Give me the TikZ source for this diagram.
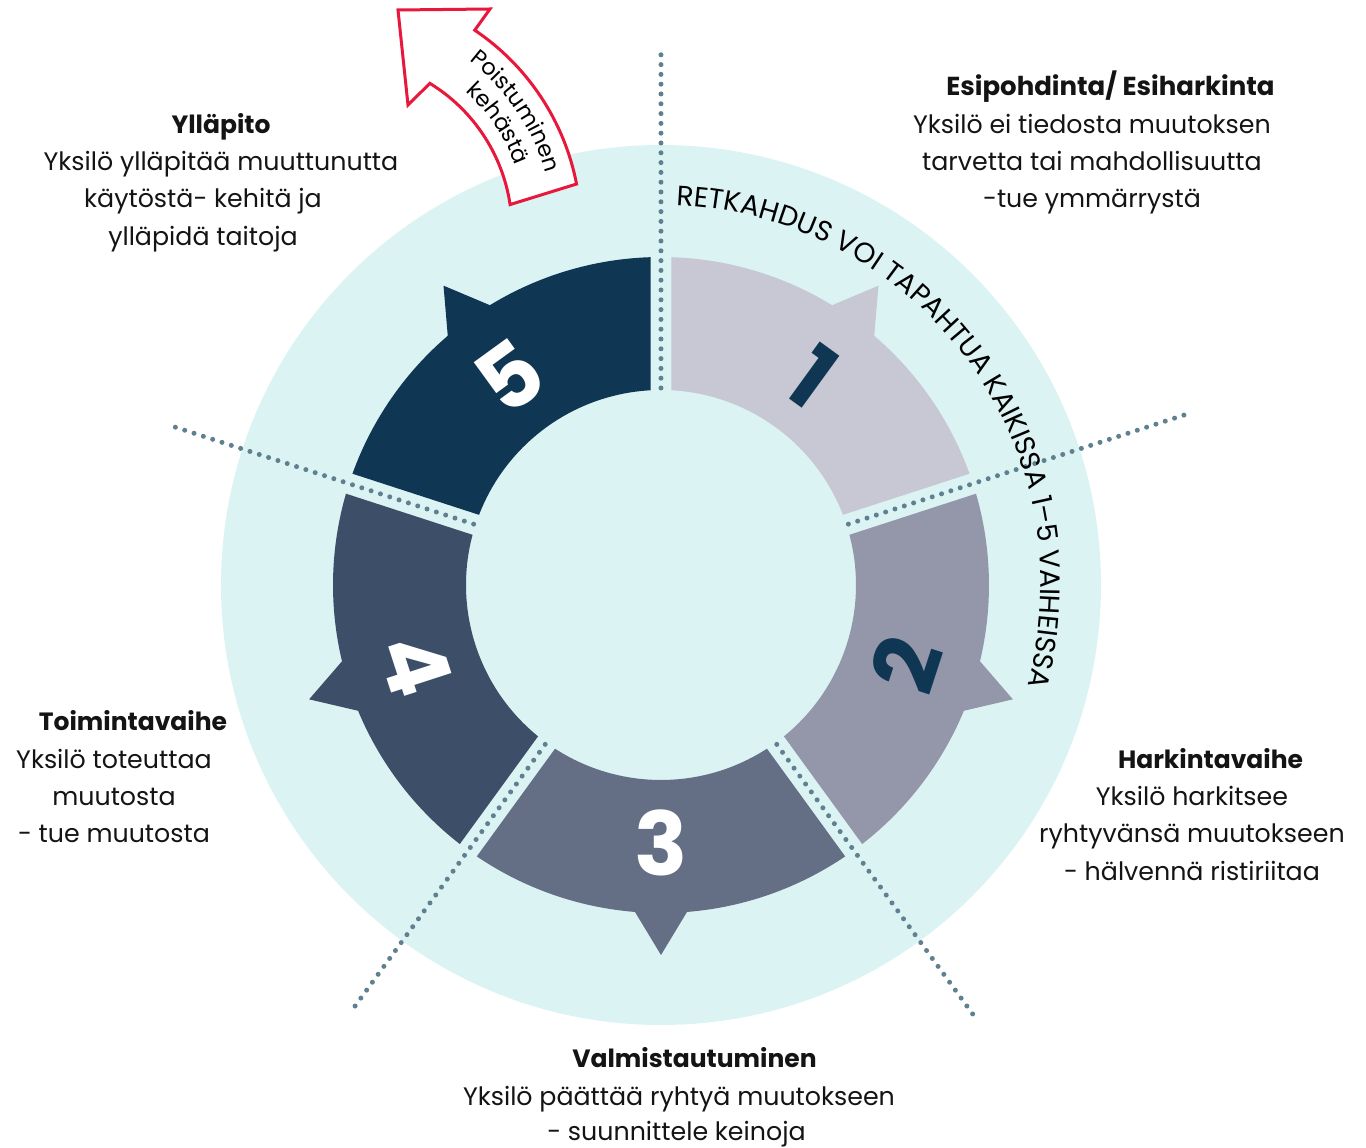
\documentclass[tikz,border=0pt]{standalone}
\usepackage{fontspec}
\setmainfont{Poppins}
\usetikzlibrary{decorations.text}
\definecolor{bgc}{HTML}{DCF3F3}
\definecolor{sega}{HTML}{C8C8D5}
\definecolor{segb}{HTML}{9397A9}
\definecolor{segc}{HTML}{646F85}
\definecolor{segd}{HTML}{3C4E68}
\definecolor{sege}{HTML}{0F3652}
\definecolor{dotc}{HTML}{5E8090}
\definecolor{arrred}{HTML}{E8173C}
\definecolor{txtc}{HTML}{141414}
\def\gapin{3.087}
\def\gapout{1.834}
\def\rin{195}
\def\rout{328}
\def\rtip{370}
\def\tbase{4.55}
\newcommand\ringseg[4]{%
 \fill[#4] ({#1-\gapin}:\rin) -- ({#1-\gapout}:\rout)
   arc[start angle={#1-\gapout}, end angle={#3+\tbase}, radius=\rout]
   -- (#3:\rtip) -- ({#3-\tbase}:\rout)
   arc[start angle={#3-\tbase}, end angle={#2+\gapout}, radius=\rout]
   -- ({#2+\gapin}:\rin)
   arc[start angle={#2+\gapin}, end angle={#1-\gapin}, radius=\rin] -- cycle;}
\begin{document}
\begin{tikzpicture}[x=1pt,y=1pt,
  num/.style={font=\fontsize{88}{88}\selectfont\bfseries, inner sep=0pt},
  dotline/.style={dotc, line width=5pt, line cap=round, dash pattern=on 0pt off 9.8pt},
  body/.style={font=\fontsize{25.3}{25.3}\selectfont, text=txtc, anchor=base, inner sep=0pt},
  ttl/.style={font=\fontsize{25}{25}\selectfont\bfseries, text=txtc, anchor=base, inner sep=0pt},
  redarrow/.style={draw=arrred, line width=3pt, fill=white}]
\useasboundingbox (-661,-563) rectangle (705,585);
\fill[white] (-661,-563) rectangle (705,585);
% background disc
\fill[bgc] (0,0) circle (440);
% ring segments
\ringseg{90}{18}{54}{sega}
\ringseg{18}{-54}{-18}{segb}
\ringseg{-54}{-126}{-90}{segc}
\ringseg{-126}{-198}{-162}{segd}
\ringseg{162}{90}{126}{sege}
% dotted dividers
\foreach \a/\r in {90/537, 18/556, -54/533, -126/525, 162/519}
  \draw[dotline] (\a:197) -- (\a:\r);
% numbers
\node[num, text=sege, rotate=-36] (n1) at (54:258) {1};
\node[num, text=sege, rotate=72] (n2) at (-18:258) {2};
\node[num, text=white] (n3) at (-90:258) {3};
\node[num, text=white, rotate=-72] (n4) at (-162:258) {4};
\node[num, text=white, rotate=36] (n5) at (126:258) {5};
% arc text
\path[decorate, decoration={text along path, text align=left,
  text={|\fontsize{28}{28}\selectfont|RETKAHDUS VOI TAPAHTUA KAIKISSA 1–5 VAIHEISSA}}]
  (87.7:380) arc[start angle=87.7, end angle=-40, radius=380];
% exit arrow
\begin{scope}[shift={(-321,355)}]
\draw[redarrow] (11:241) arc[start angle=11, end angle=56, radius=241]
  -- (150,221) -- (58,220) -- (68,125) -- (58.5:172)
  arc[start angle=58.5, end angle=8.5, radius=172] -- cycle;
\path[decorate, decoration={text along path, text align=center,
  text={|\fontsize{22.5}{22.5}\selectfont|Poistuminen}}]
  (74:213) arc[start angle=74, end angle=-6, radius=213];
\path[decorate, decoration={text along path, text align=center,
  text={|\fontsize{22.5}{22.5}\selectfont|kehästä}}]
  (74:187) arc[start angle=74, end angle=-6, radius=187];
\end{scope}
% labels: Esipohdinta
\node[ttl, font=\fontsize{26}{26}\selectfont\bfseries] (t1) at (449.5,489) {Esipohdinta/ Esiharkinta};
\node[body] (t1a) at (431,451) {Yksilö ei tiedosta muutoksen};
\node[body] (t1b) at (431,414) {tarvetta tai mahdollisuutta};
\node[body] (t1c) at (431,377) {-tue ymmärrystä};
% Harkintavaihe
\node[ttl] (t2) at (549.5,-184) {Harkintavaihe};
\node[body] (t2a) at (531,-221) {Yksilö harkitsee};
\node[body] (t2b) at (531,-258) {ryhtyvänsä muutokseen};
\node[body] (t2c) at (531,-295) {- hälvennä ristiriitaa};
% Valmistautuminen
\node[ttl] (t3) at (33.5,-482) {Valmistautuminen};
\node[body] (t3a) at (18,-520) {Yksilö päättää ryhtyä muutokseen};
\node[body] (t3b) at (15.5,-555) {- suunnittele keinoja};
% Toimintavaihe
\node[ttl] (t4) at (-528,-146) {Toimintavaihe};
\node[body] (t4a) at (-547,-184) {Yksilö toteuttaa};
\node[body] (t4b) at (-547,-221) {muutosta};
\node[body] (t4c) at (-547,-258) {- tue muutosta};
% Yllapito
\node[ttl] (t5) at (-440,451) {Ylläpito};
\node[body] (t5a) at (-440,414) {Yksilö ylläpitää muuttunutta};
\node[body] (t5b) at (-458,377) {käytöstä- kehitä ja};
\node[body] (t5c) at (-458,339) {ylläpidä taitoja};
\end{tikzpicture}
\end{document}
